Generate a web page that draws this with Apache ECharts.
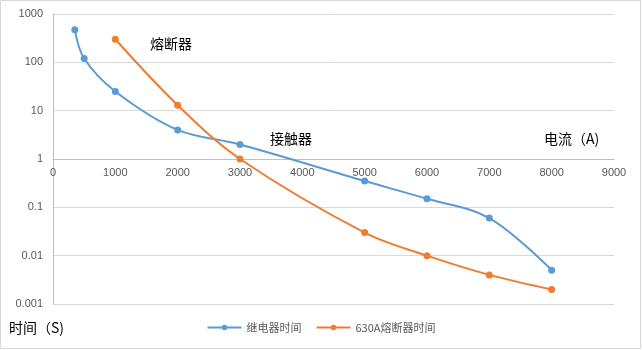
<!DOCTYPE html>
<html>
<head>
<meta charset="utf-8">
<script src="https://cdn.jsdelivr.net/npm/echarts@6/dist/echarts.min.js"></script>
<style>
  html, body { margin: 0; padding: 0; background: #fff; }
  #chart { width: 642px; height: 350px; }
</style>
</head>
<body>
<div id="chart"></div>
<script>
// Current (A) and trip time (s) for the relay and the 630A fuse
const relayCurrent = [350, 500, 1000, 2000, 3000, 5000, 6000, 7000, 8000];
const relayTime    = [470, 120, 25, 4, 2, 0.35, 0.15, 0.06, 0.005];
const fuseCurrent  = [1000, 2000, 3000, 5000, 6000, 7000, 8000];
const fuseTime     = [300, 13, 1, 0.03, 0.01, 0.004, 0.002];
const seriesNames  = ['继电器时间', '630A熔断器时间'];

const FONT = '"Liberation Sans", "Noto Sans CJK SC", sans-serif';
const CJK = '"Noto Sans CJK SC", sans-serif';

const chart = echarts.init(document.getElementById('chart'), null, { renderer: 'canvas' });

function pairs(xs, ys) { return xs.map((x, i) => [x, ys[i]]); }

chart.setOption({
  animation: false,
  grid: { left: 53, right: 28, top: 14, bottom: 46 },
  xAxis: {
    type: 'value',
    min: 0, max: 9000, interval: 1000,
    position: 'bottom',
    offset: -145,
    axisLine: { show: true, lineStyle: { color: '#bfbfbf', width: 1 } },
    axisTick: { show: false },
    splitLine: { show: false },
    axisLabel: {
      color: '#595959', fontSize: 11, fontFamily: FONT, margin: 8,
      formatter: v => String(v)
    }
  },
  yAxis: {
    type: 'log', logBase: 10,
    min: 0.001, max: 1000,
    axisLine: { show: true, lineStyle: { color: '#bfbfbf', width: 1 } },
    axisTick: { show: false },
    splitLine: { show: true, lineStyle: { color: '#d9d9d9', width: 1 } },
    axisLabel: {
      color: '#595959', fontSize: 11, fontFamily: FONT, margin: 10,
      formatter: v => String(Number(Number(v).toPrecision(1)))
    }
  },
  legend: {
    bottom: 12, left: 'center',
    itemWidth: 34, itemHeight: 7, itemGap: 14,
    textStyle: { color: '#595959', fontSize: 11, fontFamily: CJK },
    data: seriesNames
  },
  series: [
    {
      name: seriesNames[0], type: 'line', smooth: 0.35,
      data: pairs(relayCurrent, relayTime),
      symbol: 'circle', symbolSize: 7,
      itemStyle: { color: '#5b9bd5' },
      lineStyle: { color: '#5b9bd5', width: 2 }
    },
    {
      name: seriesNames[1], type: 'line', smooth: 0.35,
      data: pairs(fuseCurrent, fuseTime),
      symbol: 'circle', symbolSize: 7,
      itemStyle: { color: '#ed7d31' },
      lineStyle: { color: '#ed7d31', width: 2 }
    }
  ],
  graphic: [
    { type: 'rect', shape: { x: 0.5, y: 0.5, width: 640, height: 348 },
      style: { fill: 'none', stroke: '#d9d9d9', lineWidth: 1 }, silent: true },
    { type: 'text', left: 150, top: 37,
      style: { text: '熔断器', fill: '#000', fontSize: 14, fontFamily: CJK } },
    { type: 'text', left: 270, top: 132,
      style: { text: '接触器', fill: '#000', fontSize: 14, fontFamily: CJK } },
    { type: 'text', left: 544, top: 132,
      style: { text: '电流（A)', fill: '#000', fontSize: 14, fontFamily: CJK } },
    { type: 'text', left: 9, top: 321,
      style: { text: '时间（S)', fill: '#000', fontSize: 14, fontFamily: CJK } }
  ]
});
</script>
</body>
</html>
